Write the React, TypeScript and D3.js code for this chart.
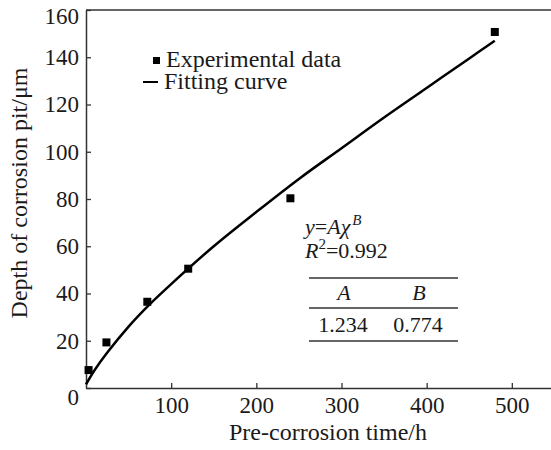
import React, { useRef, useEffect } from "react";
import * as d3 from "d3";

// experimental points
const timeH = [3, 24, 72, 120, 240, 480];
const depthUm = [7.6, 19.3, 36.5, 50.5, 80.3, 150.7];

// fitting curve
const fitTime = [0, 10, 25, 50, 75, 100, 150, 200, 250, 300, 350, 400, 450, 480];
const fitDepth = [1.5, 7.5, 15, 26, 35.5, 44, 60, 74.5, 88.5, 101.5, 114.5, 127, 139.5, 147];

const xTicks = [100, 200, 300, 400, 500];
const yTicks = [0, 20, 40, 60, 80, 100, 120, 140, 160];

const legendLabels = ["Experimental data", "Fitting curve"];
const paramNames = ["A", "B"];
const paramValues = ["1.234", "0.774"];

const FONT = "'Liberation Serif', 'Times New Roman', serif";

const App = () => {
    const chartRef = useRef<SVGSVGElement>(null);

    useEffect(() => {
        if (!chartRef.current) return;
        const svg = d3.select(chartRef.current);
        svg.selectAll("*").remove();

        const W = 551;
        const H = 450;
        const margin = { top: 10, right: 0, bottom: 62, left: 86 };

        const x = d3.scaleLinear().domain([0, 546]).range([margin.left, W - margin.right]);
        const y = d3.scaleLinear().domain([0, 160]).range([H - margin.bottom, margin.top]);

        const axisColor = "#333";
        const ink = "#1a1a1a";

        // x axis
        const gx = svg
            .append("g")
            .attr("transform", `translate(0,${y(0)})`)
            .call(d3.axisBottom(x).tickValues(xTicks).tickSize(-5).tickPadding(9).tickSizeOuter(0));
        gx.select(".domain").attr("stroke", axisColor).attr("stroke-width", 1.5);
        gx.selectAll(".tick line").attr("stroke", axisColor).attr("stroke-width", 1.3);
        gx.selectAll(".tick text")
            .style("font-family", FONT)
            .style("font-size", "23px")
            .attr("fill", ink);

        // y axis
        const gy = svg
            .append("g")
            .attr("transform", `translate(${x(0)},0)`)
            .call(d3.axisLeft(y).tickValues(yTicks).tickSize(-5).tickPadding(7).tickSizeOuter(0));
        gy.select(".domain").attr("stroke", axisColor).attr("stroke-width", 1.5);
        gy.selectAll(".tick line").attr("stroke", axisColor).attr("stroke-width", 1.3);
        gy.selectAll(".tick text")
            .style("font-family", FONT)
            .style("font-size", "23px")
            .attr("fill", ink)
            .attr("y", (d) => (d === 0 ? 9 : d === 160 ? 6 : 0));

        // top frame
        svg
            .append("line")
            .attr("x1", x(0))
            .attr("x2", W)
            .attr("y1", y(160))
            .attr("y2", y(160))
            .attr("stroke", axisColor)
            .attr("stroke-width", 1.5);

        // axis titles
        svg
            .append("text")
            .attr("x", 328)
            .attr("y", 440)
            .attr("text-anchor", "middle")
            .style("font-family", FONT)
            .style("font-size", "24px")
            .attr("fill", ink)
            .text("Pre-corrosion time/h");

        svg
            .append("text")
            .attr("transform", `translate(27,${(y(0) + y(160)) / 2 - 6}) rotate(-90)`)
            .attr("text-anchor", "middle")
            .style("font-family", FONT)
            .style("font-size", "24px")
            .attr("fill", ink)
            .text("Depth of corrosion pit/\u03bcm");

        // fitting curve
        const fit = fitTime.map((t, i) => [t, fitDepth[i]] as [number, number]);
        const line = d3
            .line<[number, number]>()
            .x((d) => x(d[0]))
            .y((d) => y(d[1]))
            .curve(d3.curveCatmullRom);
        svg
            .append("path")
            .attr("d", line(fit))
            .attr("fill", "none")
            .attr("stroke", "#000")
            .attr("stroke-width", 2.5);

        // experimental data
        const s = 8;
        svg
            .selectAll(".point")
            .data(timeH)
            .enter()
            .append("rect")
            .attr("class", "point")
            .attr("x", (d) => x(d) - s / 2)
            .attr("y", (d, i) => y(depthUm[i]) - s / 2)
            .attr("width", s)
            .attr("height", s)
            .attr("fill", "#000");

        // legend
        const lg = svg.append("g");
        lg.append("rect").attr("x", 153).attr("y", 57).attr("width", 7).attr("height", 7).attr("fill", "#000");
        lg.append("line")
            .attr("x1", 143)
            .attr("x2", 158)
            .attr("y1", 82)
            .attr("y2", 82)
            .attr("stroke", "#000")
            .attr("stroke-width", 2);
        lg.selectAll("text")
            .data(legendLabels)
            .enter()
            .append("text")
            .attr("x", (d, i) => (i === 0 ? 166 : 164))
            .attr("y", (d, i) => 67 + i * 22)
            .style("font-family", FONT)
            .style("font-size", "24px")
            .attr("fill", ink)
            .text((d) => d);

        // fit equation
        const eq = svg
            .append("text")
            .attr("x", 305)
            .attr("y", 234)
            .style("font-family", FONT)
            .style("font-size", "22px")
            .attr("fill", ink);
        eq.append("tspan").attr("font-style", "italic").text("y");
        eq.append("tspan").text("=");
        eq.append("tspan").attr("font-style", "italic").text("A\u03c7");
        eq.append("tspan")
            .attr("font-style", "italic")
            .style("font-size", "15px")
            .attr("dx", 2)
            .attr("dy", -9)
            .text("B");

        const r2 = svg
            .append("text")
            .attr("x", 305)
            .attr("y", 258)
            .style("font-family", FONT)
            .style("font-size", "22px")
            .attr("fill", ink);
        r2.append("tspan").attr("font-style", "italic").text("R");
        r2.append("tspan").style("font-size", "15px").attr("dy", -9).text("2");
        r2.append("tspan").attr("dy", 9).text("=0.992");

        // parameter table
        [278, 308, 341].forEach((ly) => {
            svg
                .append("line")
                .attr("x1", 309)
                .attr("x2", 458)
                .attr("y1", ly)
                .attr("y2", ly)
                .attr("stroke", axisColor)
                .attr("stroke-width", 1.3);
        });
        const colX = [344, 419];
        svg
            .selectAll(".pname")
            .data(paramNames)
            .enter()
            .append("text")
            .attr("x", (d, i) => colX[i])
            .attr("y", 300)
            .attr("text-anchor", "middle")
            .style("font-family", FONT)
            .attr("font-style", "italic")
            .style("font-size", "22px")
            .attr("fill", ink)
            .text((d) => d);
        svg
            .selectAll(".pval")
            .data(paramValues)
            .enter()
            .append("text")
            .attr("x", (d, i) => colX[i] - 1)
            .attr("y", 332)
            .attr("text-anchor", "middle")
            .style("font-family", FONT)
            .style("font-size", "22px")
            .attr("fill", ink)
            .text((d) => d);
    }, []);

    return (
        <svg
            ref={chartRef}
            width={551}
            height={450}
            style={{ position: "absolute", left: 0, top: 0, background: "#fff" }}
        />
    );
};

export default App;
